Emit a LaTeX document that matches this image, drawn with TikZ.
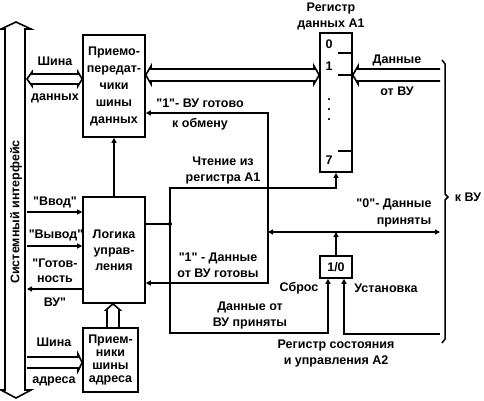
\documentclass[tikz,border=0pt]{standalone}
\usepackage{fontspec}
\setmainfont{Liberation Sans}[Ligatures=TeXOff]
\usetikzlibrary{arrows.meta,calc}
\begin{document}
\begin{tikzpicture}[x=1pt,y=-1pt,line width=1.6pt,
  every node/.style={font=\fontsize{12.5}{16}\selectfont\bfseries,inner sep=0pt,align=center},
  blk/.style={draw,rectangle,line width=1.6pt},
  arr/.style={-{Triangle[length=5pt,width=5pt]}},
  dbl/.style={draw,fill=white,line width=1.6pt,line join=miter}]
\useasboundingbox (0,0) rectangle (484,400);

% blocks
\node[blk,minimum width=62pt,minimum height=102pt,font=\fontsize{12.5}{17}\selectfont\bfseries] (trx) at (114,86) {Приемо-\\передат-\\чики\\шины\\данных};
\node[blk,minimum width=62pt,minimum height=106pt,font=\fontsize{12.5}{16}\selectfont\bfseries] (logic) at (114,250) {Логика\\управ-\\ления};
\node[blk,minimum width=55pt,minimum height=64pt,font=\fontsize{12.5}{12.8}\selectfont\bfseries] (addr) at (110.5,360) {Прием-\\ники\\шины\\адреса};
\node[blk,minimum width=32pt,minimum height=139pt] (regA) at (336,102.5) {};
\node[blk,minimum width=32pt,minimum height=22pt] (ff) at (336,267) {1/0};

% register contents
\node (r0) at (329,44) {0};
\node (r1) at (329,66) {1};
\node (dots) at (329,110) [font=\fontsize{12.5}{10}\selectfont\bfseries] {.\\.\\.};
\node (r7) at (329,160) {7};
\draw (338,53) -- (regA.east |- 0,53);
\draw (338,75) -- (regA.east |- 0,75);
\draw (338,151) -- (regA.east |- 0,151);

% system bus
\draw[dbl] (16,22) -- (31,29) -- (25,29) -- (25,390) -- (31,390) -- (16,398) -- (1,390) -- (5,390) -- (5,29) -- (1,29) -- cycle;
\node[rotate=90] (sysT) at (16,212) {Системный интерфейс};

% data bus (left)
\draw[dbl] (27,79) -- (32,72) -- (32,74) -- (78,74) -- (78,72) -- (trx.west |- 0,79) -- (78,86) -- (78,84) -- (32,84) -- (32,86) -- cycle;
\node (tDB) at (55,79.5) [font=\fontsize{12.5}{35}\selectfont\bfseries] {Шина\\данных};

% trx <-> register A1
\draw[dbl] (trx.east |- 0,75) -- (151,66) -- (151,69) -- (314,69) -- (314,66) -- (regA.west |- 0,75) -- (314,84) -- (314,81) -- (151,81) -- (151,84) -- cycle;

% data from VU
\draw[dbl] (440,69) -- (358,69) -- (358,66) -- (regA.east |- 0,75) -- (358,84) -- (358,81) -- (440,81);
\node (tDV) at (397,75) [font=\fontsize{12.5}{32}\selectfont\bfseries] {Данные\\от ВУ};

% address bus
\draw[dbl] (27,357) -- (78,357) -- (78,354) -- (addr.west |- 0,362.5) -- (78,371) -- (78,368) -- (27,368);
\node (tAB) at (54,361.5) [font=\fontsize{12.5}{37}\selectfont\bfseries] {Шина\\адреса};

% addr -> logic
\draw[dbl] (logic.south -| 113,0) -- (120,310) -- (119,310) -- (119,328) -- (107,328) -- (107,310) -- (106,310) -- cycle;

% logic -> trx
\draw[arr] (logic.north) -- (trx.south);

% control lines with system bus
\draw[arr] (27,212) -- (logic.west |- 0,212);
\draw[arr] (27,246) -- (logic.west |- 0,246);
\draw[arr] (logic.west |- 0,289) -- (27,289);
\node (tIn) at (55,202) {"Ввод"};
\node (tOut) at (56,235) {"Вывод"};
\node (tRdy) at (55,271) [font=\fontsize{12.5}{14.5}\selectfont\bfseries] {"Готов-\\ность};
\node (tRdy2) at (55,302) {ВУ"};

% flip-flop output
\coordinate (j) at (336,232);
\draw[arr] (ff.north) -- (j);
\draw[arr] (j) -- (268,232);
\draw[arr] (j) -- (440,232);
\draw[arr] (268,232) -- (268,113) -- (trx.east |- 0,113);
\draw[arr] (268,232) -- (268,283) -- (logic.east |- 0,283);

% read from register A1
\coordinate (k) at (170,224);
\draw (logic.east |- k) -- (k);
\fill (k) circle (2);
\draw[arr] (k) -- (170,188) -- (regA.south |- 0,188) -- (regA.south);
\draw[arr] (k) -- (170,333) -- (328,333) -- ($(ff.south)+(-8,0)$);
\draw[arr] (440,334) -- (344,334) -- ($(ff.south)+(8,0)$);

% brace
\draw[line width=1.5pt] (442,60) -- (445,64) -- (445,194) -- (448,197) -- (445,200) -- (445,339) -- (442,343);

% labels
\node (tRegA) at (331,16) {Регистр\\данных А1};
\node (tRdyX) at (200,114) [font=\fontsize{12.5}{20}\selectfont\bfseries] {"1"- ВУ готово\\к обмену};
\node (tRead) at (223,170) {Чтение из\\регистра А1};
\node (tKVU) at (468,197) {к ВУ};
\node (tAck) at (394,213) [font=\fontsize{12.5}{16.5}\selectfont\bfseries] {"0"- Данные\\\hspace*{20pt}приняты};
\node (tDR) at (218,265) {"1" - Данные\\от ВУ готовы};
\node (tRst) at (299,288) {Сброс};
\node (tSet) at (386,288) {Установка};
\node (tDA) at (250,315) {Данные от\\ВУ приняты};
\node (tA2) at (336,353) {Регистр состояния\\и управления А2};
\end{tikzpicture}
\end{document}
